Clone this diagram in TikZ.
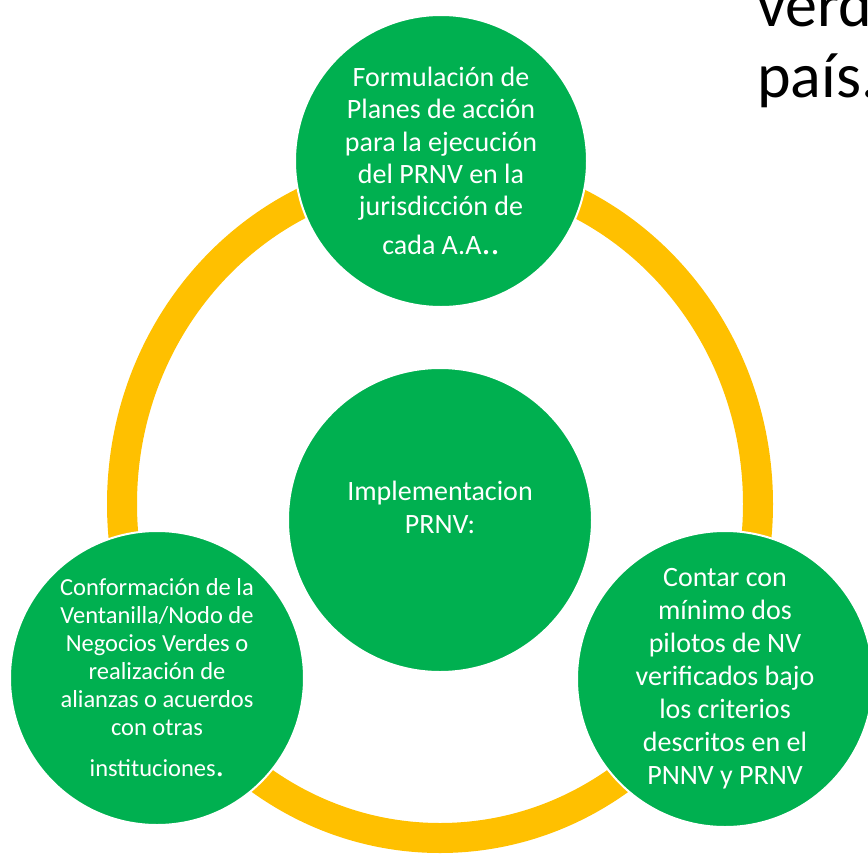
\documentclass[tikz,border=0pt]{standalone}
\usepackage{fontspec}
\setmainfont{Carlito}
\definecolor{ogreen}{HTML}{00B050}
\definecolor{oyellow}{HTML}{FFC000}
\begin{document}
\begin{tikzpicture}[x=1pt,y=-1pt,
  greencirc/.style={circle, fill=ogreen, draw=white, line width=2pt, inner sep=0pt},
  circtext/.style={text=white, align=center, inner sep=0pt},
  ringstyle/.style={draw=oyellow, line width=30pt},
  slidetext/.style={text=black, anchor=base west, inner sep=0pt, font=\fontsize{64}{71}\selectfont}]
\useasboundingbox (0,0) rectangle (868,854);
\clip (0,0) rectangle (868,854);
% ring
\draw[ringstyle] (440,504) ellipse [x radius=318, y radius=334];
% circles
\node[greencirc, minimum size=292] (top) at (441,161) {};
\node[greencirc, minimum size=304] (mid) at (440,520) {};
\node[greencirc, minimum size=294] (left) at (157,678) {};
\node[greencirc, minimum size=296] (right) at (725,679) {};
% texts
\node[circtext, font=\fontsize{28}{32.4}\selectfont] (toptext) at (top.center)
  {Formulación de\\Planes de acción\\para la ejecución\\del PRNV en la\\jurisdicción de\\[6.6pt]cada A.A{\fontsize{36}{36}\selectfont ..}};
\node[circtext, font=\fontsize{28}{33}\selectfont] (midtext) at (440,507)
  {Implementacion\\PRNV:};
\node[circtext, font=\fontsize{24.5}{28}\selectfont] (lefttext) at (left.center)
  {Conformación de la\\Ventanilla/Nodo de\\Negocios Verdes o\\realización de\\alianzas o acuerdos\\con otras\\[13pt]instituciones{\fontsize{34}{34}\selectfont .}};
\node[circtext, font=\fontsize{28}{33}\selectfont] (righttext) at (right.center)
  {Contar con\\mínimo dos\\pilotos de NV\\verificados bajo\\los criterios\\descritos en el\\PNNV y PRNV};
% slide text
\node[slidetext] (verd) at (757,26) {verd};
\node[slidetext] (pais) at (757,97) {país.};
\end{tikzpicture}
\end{document}
